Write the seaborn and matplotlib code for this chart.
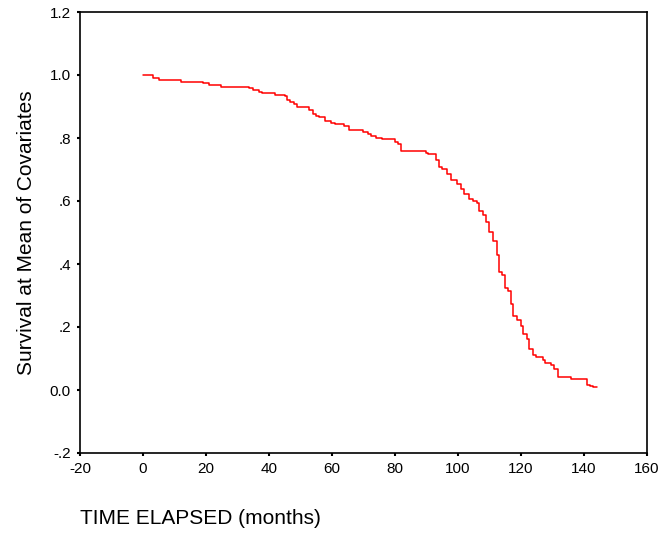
import numpy as np
import pandas as pd
import matplotlib
matplotlib.use('Agg')
import matplotlib.pyplot as plt
import seaborn as sns

# step points of the survival curve (time in months, survival at mean of covariates)
time_months = [0.0, 3.1, 5.0, 12.0, 19.0, 20.9, 24.9, 33.7, 35.0, 36.9, 37.9, 42.0, 45.0,
               45.8, 46.7, 47.9, 49.0, 52.8, 54.1, 54.9, 56.0, 57.7, 59.6, 61.0, 63.8,
               65.5, 69.7, 71.4, 72.5, 74.0, 75.9, 80.1, 81.0, 81.8, 89.8, 90.5,
               93.0, 93.9, 94.9, 96.6, 97.7, 99.8, 100.9, 101.9, 103.6, 104.7, 105.9,
               106.8, 108.0, 108.9, 109.9, 111.0, 112.3, 112.9, 114.0, 114.8, 115.9,
               116.7, 117.6, 118.8, 119.9, 120.7, 121.8, 122.6, 123.7, 124.9, 126.9,
               127.7, 129.4, 130.5, 131.7, 135.8, 140.8, 141.9, 142.8, 144.2]
survival = [1.001, 0.991, 0.983, 0.979, 0.974, 0.969, 0.963, 0.959, 0.951, 0.947, 0.942, 0.937, 0.933,
            0.922, 0.913, 0.909, 0.898, 0.890, 0.877, 0.871, 0.867, 0.854, 0.848, 0.843, 0.839,
            0.825, 0.820, 0.814, 0.807, 0.801, 0.798, 0.788, 0.780, 0.760, 0.752, 0.748,
            0.730, 0.709, 0.701, 0.686, 0.667, 0.654, 0.639, 0.622, 0.605, 0.601, 0.595,
            0.567, 0.557, 0.533, 0.502, 0.472, 0.430, 0.375, 0.366, 0.324, 0.315,
            0.273, 0.235, 0.222, 0.203, 0.178, 0.161, 0.129, 0.112, 0.104, 0.095,
            0.085, 0.078, 0.068, 0.042, 0.034, 0.017, 0.013, 0.009, 0.009]

x_ticks = [-20, 0, 20, 40, 60, 80, 100, 120, 140, 160]
y_ticks = [-0.2, 0.0, 0.2, 0.4, 0.6, 0.8, 1.0, 1.2]
y_tick_labels = ['-.2', '0.0', '.2', '.4', '.6', '.8', '1.0', '1.2']

df = pd.DataFrame({'TIME': time_months, 'SURV': survival})

sns.set_style("white")
plt.rcParams['font.family'] = ['Liberation Sans', 'DejaVu Sans']
plt.rcParams['text.color'] = 'black'
plt.rcParams['axes.labelcolor'] = 'black'
plt.rcParams['xtick.color'] = 'black'
plt.rcParams['ytick.color'] = 'black'

fig = plt.figure(figsize=(6.6, 5.33), dpi=100)
ax = fig.add_axes([80 / 660, 80 / 533, 567 / 660, 441 / 533])

sns.lineplot(data=df, x='TIME', y='SURV', drawstyle='steps-post', color='#ff0000',
             linewidth=1.1, ax=ax, estimator=None, sort=False)

ax.set_xlim(-20, 160)
ax.set_ylim(-0.2, 1.2)
ax.set_xticks(x_ticks)
ax.set_xticklabels([str(t) for t in x_ticks], fontsize=11)
ax.set_yticks(y_ticks)
ax.set_yticklabels(y_tick_labels, fontsize=11)
ax.tick_params(direction='out', length=2.5, width=1.5, color='black', pad=4, bottom=True, left=True)

for spine in ax.spines.values():
    spine.set_visible(True)
    spine.set_color('black')
    spine.set_linewidth(1.2)

ax.set_ylabel('Survival at Mean of Covariates', fontsize=15, labelpad=10)
ax.set_xlabel('')
fig.text(80 / 660, 1 - 518 / 533, 'TIME ELAPSED (months)', fontsize=15, ha='left', va='center')

fig.savefig('out.png', dpi=100)
